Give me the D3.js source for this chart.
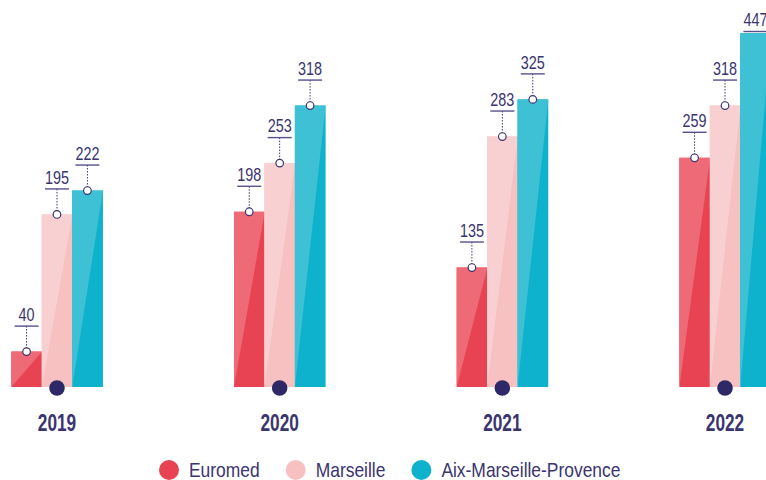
<!DOCTYPE html>
<html><head><meta charset="utf-8">
<script src="https://cdn.jsdelivr.net/npm/d3@7"></script>
<style>
html,body{margin:0;padding:0;background:#fff;}
svg{display:block;}
text{font-family:"Liberation Sans","Arial",sans-serif;}
</style></head>
<body>
<svg id="chart" width="766" height="480"></svg>
<script>
const years = ["2019","2020","2021","2022"];
const seriesNames = ["Euromed","Marseille","Aix-Marseille-Provence"];
const euromed = [40,198,135,259];
const marseille = [195,253,283,318];
const aixMarseille = [222,318,325,447];
const seriesValues = [euromed, marseille, aixMarseille];

const colorsDark = ["#e84352","#f7c1c2","#0fb2cc"];
const colorsLight = ["#ee6a76","#f9d0d1","#3fc1d5"];
const navy = "#3a346f";
const dotNavy = "#2e2966";

const svg = d3.select("#chart");
const baseY = 387;

const x0 = d3.scaleBand().domain(years).range([-54.35, 836.35]).paddingInner(0.59).paddingOuter(0.295);
const x1 = d3.scaleBand().domain(seriesNames).range([0, x0.bandwidth()]);
const y = d3.scaleLinear().domain([0,400]).range([baseY, 33]).clamp(true);

function condText(parent, x, yy, str, size, weight, anchor, sx){
  const gg = parent.append("g").attr("transform",`translate(${x},${yy}) scale(${sx},1)`);
  const t = gg.append("text").attr("x",0).attr("y",0).attr("text-anchor",anchor)
    .attr("font-size",size).attr("font-weight",weight).attr("fill",navy).text(str);
  return t.node().getComputedTextLength()*sx;
}

const data = [];
years.forEach((yr,i)=>{
  seriesNames.forEach((s,j)=>{
    data.push({year:yr, series:s, j:j, value:seriesValues[j][i]});
  });
});

const g = svg.append("g");
data.forEach(d=>{
  const bx = x0(d.year)+x1(d.series);
  const bw = x1.bandwidth()+0.3;
  const top = y(d.value);
  g.append("rect").attr("x",bx).attr("y",top).attr("width",bw).attr("height",baseY-top).attr("fill",colorsDark[d.j]);
  g.append("path")
    .attr("d",`M${bx},${top}L${bx+bw},${top}L${bx},${baseY}Z`)
    .attr("fill",colorsLight[d.j]);
});

years.forEach(yr=>{
  const cx = x0(yr)+x0.bandwidth()/2;
  svg.append("circle").attr("cx",cx).attr("cy",388).attr("r",7.8).attr("fill",dotNavy);
  condText(svg, cx, 431, yr, 24, "bold", "middle", 0.72);
});

data.forEach(d=>{
  const cx = x0(d.year)+x1(d.series)+x1.bandwidth()/2;
  const top = y(d.value);
  const clipped = d.value > y.domain()[1];
  const ruleY = clipped ? top-1.5 : top-25.5;
  if(!clipped){
    svg.append("line").attr("x1",cx).attr("x2",cx).attr("y1",ruleY).attr("y2",top)
      .attr("stroke",navy).attr("stroke-width",1).attr("stroke-dasharray","1.5,1.5");
  }
  svg.append("line").attr("x1",cx-12).attr("x2",cx+12).attr("y1",ruleY).attr("y2",ruleY)
    .attr("stroke","#56518a").attr("stroke-width",1.4);
  condText(svg, cx, ruleY-5.2, String(d.value), 18, "normal", "middle", 0.8);
  if(!clipped){
    svg.append("circle").attr("cx",cx).attr("cy",top).attr("r",3.8)
      .attr("fill","#fff").attr("stroke",navy).attr("stroke-width",1.2);
  }
});

const lg = svg.append("g");
let lx = 169;
seriesNames.forEach((s,j)=>{
  lg.append("circle").attr("cx",lx).attr("cy",470).attr("r",10).attr("fill",colorsDark[j]);
  const w = condText(lg, lx+20, 477, s, 20.5, "normal", "start", 0.85);
  lx = lx+20+w+36;
});
</script>
</body></html>
